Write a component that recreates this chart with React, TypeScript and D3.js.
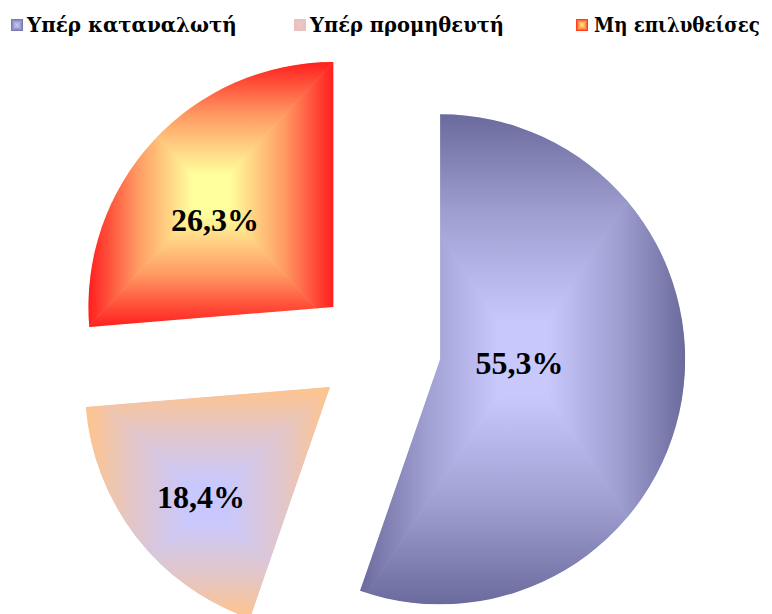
import React, { useLayoutEffect, useRef, useState } from 'react';
import * as d3 from 'd3';

const categories = ['Υπέρ καταναλωτή', 'Υπέρ προμηθευτή', 'Μη επιλυθείσες'];
const values = [55.3, 18.4, 26.3];
const valueLabels = ['55,3%', '18,4%', '26,3%'];

const edgeColors = ['#6a6a9c', '#ffc48c', '#ff1e1e'];
const centerColors = ['#c8c8fc', '#c8c8ff', '#ffff9c'];
const legendSquareEdge = ['#7070a8', '#e8c0c0', '#ff2a1a'];
const legendSquareCenter = ['#c0c0f0', '#eac6c6', '#ffe070'];

// layout
const W = 772;
const H = 614;
const CX = 379;
const CY = 349;
const R = 245;
const EXPLODE = 62;
const labelNudge: [number, number][] = [[-3, 4], [-7, -6], [4, 26]];
const legendSquareX = [11, 294, 576];
const legendTextX = [27, 310, 594];
const legendTextW = [210, 194, 166];

function pt(a: number, r: number, ox: number, oy: number): [number, number] {
  return [ox + r * Math.sin(a), oy - r * Math.cos(a)];
}

export default function App() {
  const textRefs = useRef<(SVGTextElement | null)[]>([]);
  const [scales, setScales] = useState<number[]>([1, 1, 1]);

  useLayoutEffect(() => {
    const s = textRefs.current.map((el, i) => {
      if (!el) return 1;
      const w = el.getComputedTextLength();
      return w > 0 ? legendTextW[i] / w : 1;
    });
    setScales(s);
  }, []);

  const pie = d3.pie<number>().sort(null).value((d) => d);
  const arcs = pie(values);
  const arcGen = d3.arc<d3.PieArcDatum<number>>().innerRadius(0).outerRadius(R);

  const slices = arcs.map((a, i) => {
    const mid = (a.startAngle + a.endAngle) / 2;
    const [ox, oy] = pt(mid, EXPLODE, CX, CY);
    const pts: [number, number][] = [[ox, oy], pt(a.startAngle, R, ox, oy), pt(a.endAngle, R, ox, oy)];
    for (let k = 0; k <= 4; k++) {
      const ang = (k * Math.PI) / 2;
      if (ang > a.startAngle && ang < a.endAngle) pts.push(pt(ang, R, ox, oy));
    }
    const x0 = d3.min(pts, (p) => p[0])!;
    const x1 = d3.max(pts, (p) => p[0])!;
    const y0 = d3.min(pts, (p) => p[1])!;
    const y1 = d3.max(pts, (p) => p[1])!;
    return { a, i, ox, oy, x0, x1, y0, y1, bx: (x0 + x1) / 2, by: (y0 + y1) / 2, path: arcGen(a)! };
  });

  const boxGradient = (id: string, x0: number, y0: number, x1: number, y1: number, edge: string, center: string) => {
    const cx = (x0 + x1) / 2;
    const cy = (y0 + y1) / 2;
    const mid = d3.interpolateRgb(edge, center)(0.55);
    const stops = (
      <>
        <stop offset="0" stopColor={edge} />
        <stop offset="0.4" stopColor={mid} />
        <stop offset="0.85" stopColor={center} />
        <stop offset="1" stopColor={center} />
      </>
    );
    return {
      defs: [
        <linearGradient key={id + 't'} id={id + 't'} gradientUnits="userSpaceOnUse" x1={cx} y1={y0} x2={cx} y2={cy}>{stops}</linearGradient>,
        <linearGradient key={id + 'b'} id={id + 'b'} gradientUnits="userSpaceOnUse" x1={cx} y1={y1} x2={cx} y2={cy}>{stops}</linearGradient>,
        <linearGradient key={id + 'l'} id={id + 'l'} gradientUnits="userSpaceOnUse" x1={x0} y1={cy} x2={cx} y2={cy}>{stops}</linearGradient>,
        <linearGradient key={id + 'r'} id={id + 'r'} gradientUnits="userSpaceOnUse" x1={x1} y1={cy} x2={cx} y2={cy}>{stops}</linearGradient>,
      ],
      shapes: [
        <path key="t" d={`M${x0},${y0}L${x1},${y0}L${cx},${cy}Z`} fill={`url(#${id}t)`} stroke={`url(#${id}t)`} strokeWidth={0.6} />,
        <path key="b" d={`M${x0},${y1}L${x1},${y1}L${cx},${cy}Z`} fill={`url(#${id}b)`} stroke={`url(#${id}b)`} strokeWidth={0.6} />,
        <path key="l" d={`M${x0},${y0}L${x0},${y1}L${cx},${cy}Z`} fill={`url(#${id}l)`} stroke={`url(#${id}l)`} strokeWidth={0.6} />,
        <path key="r" d={`M${x1},${y0}L${x1},${y1}L${cx},${cy}Z`} fill={`url(#${id}r)`} stroke={`url(#${id}r)`} strokeWidth={0.6} />,
      ],
    };
  };

  const sliceGrads = slices.map((s) =>
    boxGradient(`g${s.i}`, s.x0, s.y0, s.x1, s.y1, edgeColors[s.i], centerColors[s.i])
  );
  const SQ = 12;
  const SQY = 19;
  const legendGrads = categories.map((_, i) =>
    boxGradient(`lg${i}`, legendSquareX[i], SQY, legendSquareX[i] + SQ, SQY + SQ, legendSquareEdge[i], legendSquareCenter[i])
  );

  return (
    <svg width={W} height={H} style={{ position: 'absolute', left: 0, top: 0, display: 'block', background: '#fff' }}>
      <defs>
        {slices.map((s) => (
          <clipPath key={'c' + s.i} id={'clip' + s.i}>
            <path d={s.path} transform={`translate(${s.ox},${s.oy})`} />
          </clipPath>
        ))}
        {categories.map((_, i) => (
          <clipPath key={'lc' + i} id={'lclip' + i}>
            <rect x={legendSquareX[i]} y={SQY} width={SQ} height={SQ} />
          </clipPath>
        ))}
        {sliceGrads.map((g) => g.defs)}
        {legendGrads.map((g) => g.defs)}
      </defs>

      {slices.map((s) => (
        <g key={'s' + s.i} clipPath={`url(#clip${s.i})`}>
          <path d={s.path} transform={`translate(${s.ox},${s.oy})`} fill={centerColors[s.i]} />
          {sliceGrads[s.i].shapes}
        </g>
      ))}

      {slices.map((s) => (
        <text
          key={'t' + s.i}
          x={s.bx + labelNudge[s.i][0]}
          y={s.by + labelNudge[s.i][1]}
          dy="0.34em"
          textAnchor="middle"
          fontFamily="'Liberation Serif', serif"
          fontWeight="bold"
          fontSize={32}
          fill="#000"
        >
          {valueLabels[s.i]}
        </text>
      ))}

      {categories.map((c, i) => (
        <g key={'l' + i}>
          <g clipPath={`url(#lclip${i})`}>{legendGrads[i].shapes}</g>
          <text
            ref={(el) => {
              textRefs.current[i] = el;
            }}
            transform={`translate(${legendTextX[i]},32) scale(${scales[i]},1)`}
            x={0}
            y={0}
            fontFamily="'DejaVu Serif', serif"
            fontWeight="bold"
            fontSize={20}
            fill="#000"
          >
            {c}
          </text>
        </g>
      ))}
    </svg>
  );
}
